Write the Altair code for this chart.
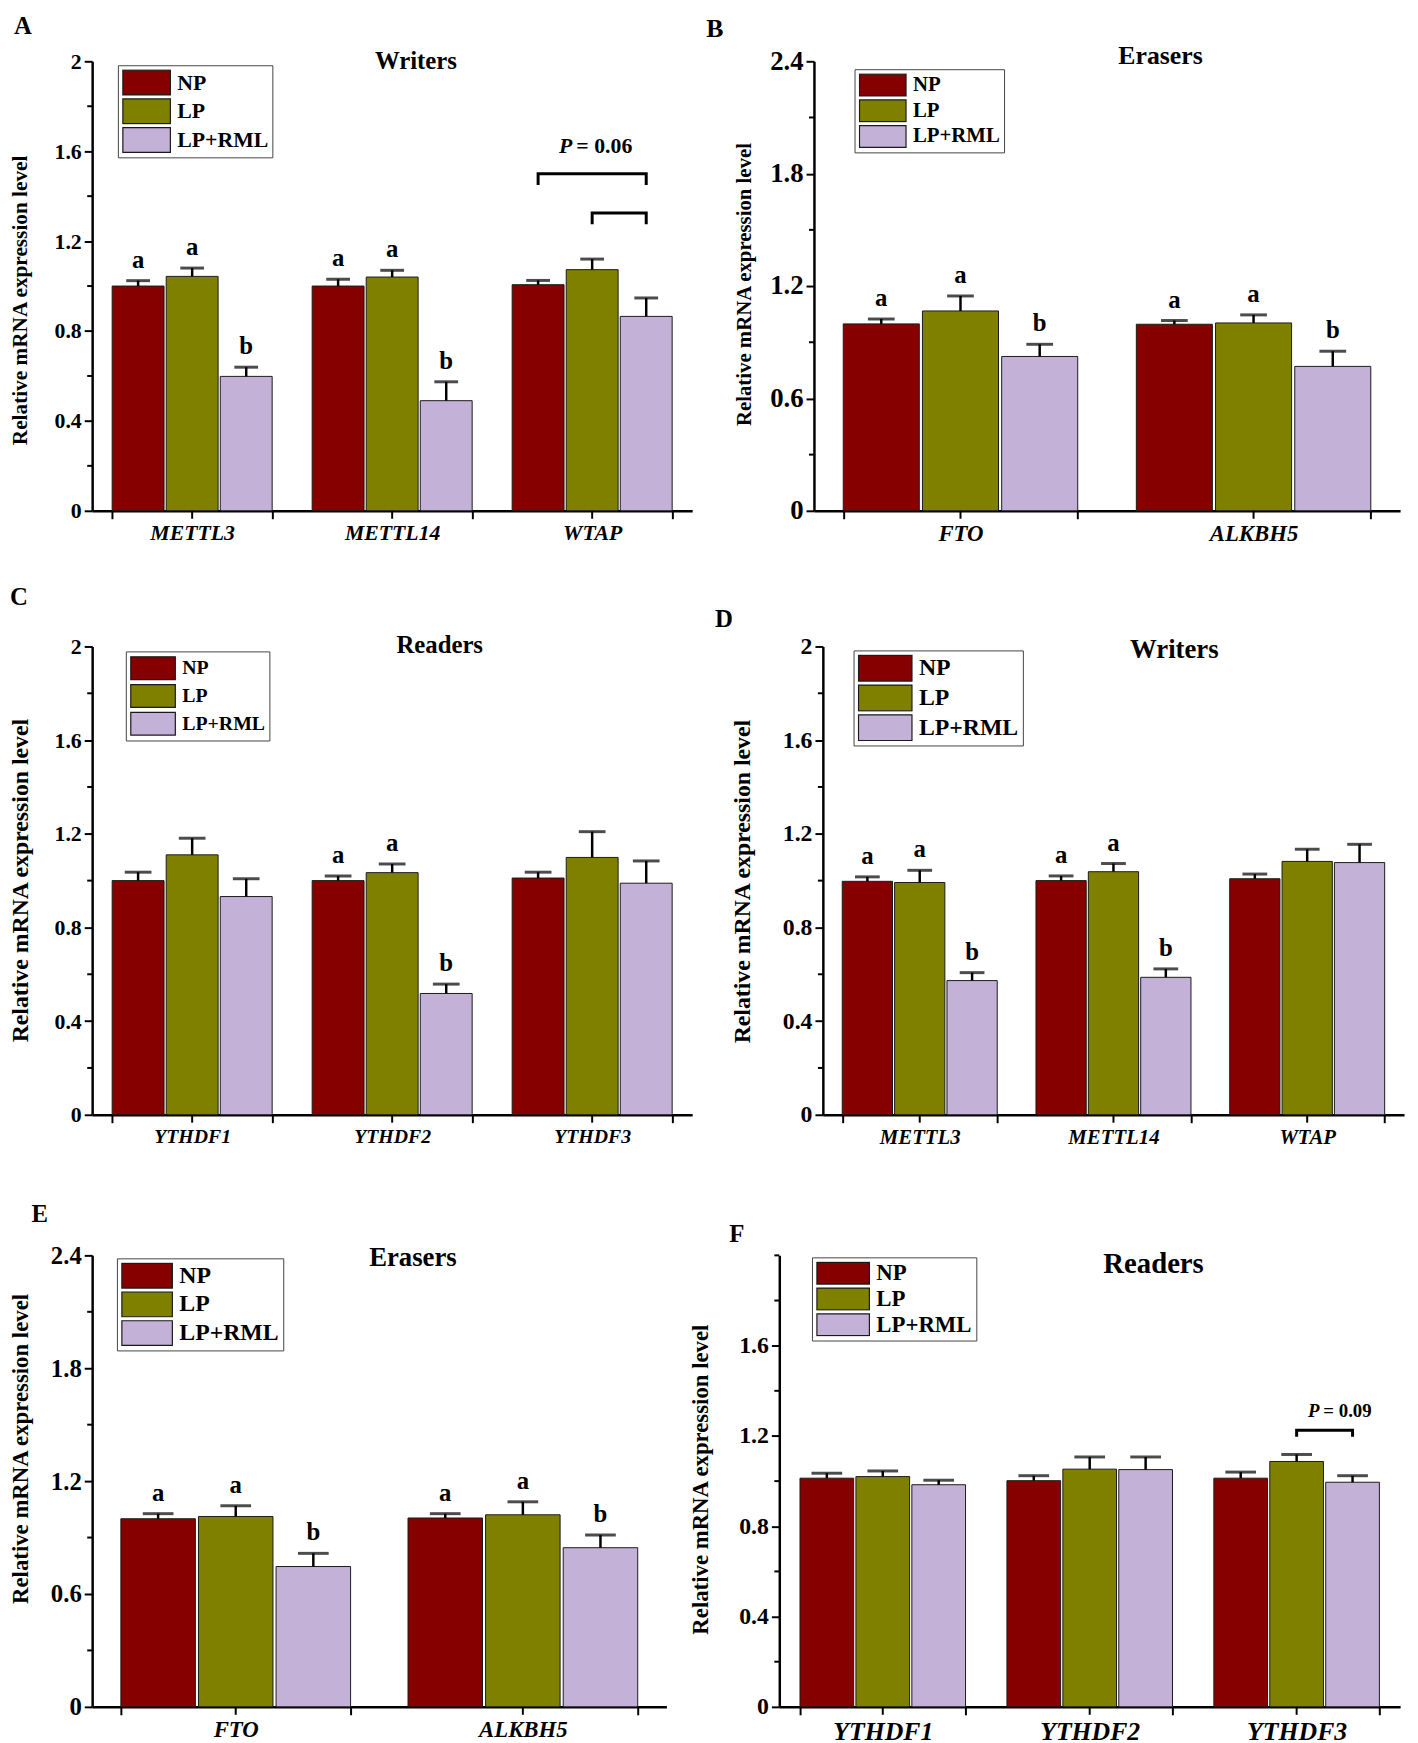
import altair as alt
import pandas as pd

FONT = "Liberation Serif"
GROUPS = ["NP", "LP", "LP+RML"]
COLORS = ["#870000", "#808000", "#C3B1D7"]
YTITLE = "Relative mRNA expression level"

# ---------------- data (mean and SE per gene: NP, LP, LP+RML) ----------------
A_GENES = ["METTL3", "METTL14", "WTAP"]
A_MEAN = [[1.00, 1.043, 0.598], [1.00, 1.04, 0.49], [1.006, 1.073, 0.865]]
A_SE = [[0.024, 0.037, 0.041], [0.03, 0.03, 0.084], [0.019, 0.047, 0.082]]
A_LET = [["a", "a", "b"], ["a", "a", "b"], ["", "", ""]]
A_BRACKETS = [("WTAP", "NP", "LP+RML", 1.45, 1.50), ("WTAP", "LP", "LP+RML", 1.275, 1.325)]
A_PTEXT = ("WTAP", "LP", 1.625, "= 0.06")

B_GENES = ["FTO", "ALKBH5"]
B_MEAN = [[0.998, 1.067, 0.824], [0.996, 1.003, 0.771]]
B_SE = [[0.026, 0.08, 0.065], [0.02, 0.043, 0.081]]
B_LET = [["a", "a", "b"], ["a", "a", "b"]]

C_GENES = ["YTHDF1", "YTHDF2", "YTHDF3"]
C_MEAN = [[1.00, 1.11, 0.932], [1.00, 1.034, 0.518], [1.011, 1.099, 0.989]]
C_SE = [[0.036, 0.071, 0.076], [0.02, 0.037, 0.04], [0.025, 0.11, 0.095]]
C_LET = [["", "", ""], ["a", "a", "b"], ["", "", ""]]

D_GENES = ["METTL3", "METTL14", "WTAP"]
D_MEAN = [[0.997, 0.992, 0.573], [1.00, 1.038, 0.587], [1.008, 1.082, 1.077]]
D_SE = [[0.019, 0.052, 0.034], [0.02, 0.035, 0.036], [0.02, 0.052, 0.078]]
D_LET = [["a", "a", "b"], ["a", "a", "b"], ["", "", ""]]

E_GENES = ["FTO", "ALKBH5"]
E_MEAN = [[1.00, 1.012, 0.746], [1.004, 1.021, 0.846]]
E_SE = [[0.027, 0.057, 0.07], [0.023, 0.069, 0.067]]
E_LET = [["a", "a", "b"], ["a", "a", "b"]]

F_GENES = ["YTHDF1", "YTHDF2", "YTHDF3"]
F_MEAN = [[1.013, 1.02, 0.984], [1.002, 1.053, 1.051], [1.013, 1.087, 0.995]]
F_SE = [[0.022, 0.025, 0.02], [0.022, 0.054, 0.056], [0.027, 0.031, 0.029]]
F_LET = [["", "", ""], ["", "", ""], ["", "", ""]]
F_BRACKETS = [("YTHDF3", "LP", "LP+RML", 1.197, 1.225)]
F_PTEXT = ("YTHDF3", "LP", 1.31, "= 0.09")

TICKS_2 = [0, 0.4, 0.8, 1.2, 1.6, 2.0]
MINOR_2 = [0.2, 0.6, 1.0, 1.4, 1.8]
TICKS_24 = [0, 0.6, 1.2, 1.8, 2.4]
MINOR_24 = [0.3, 0.9, 1.5, 2.1]
TICKS_F = [0, 0.4, 0.8, 1.2, 1.6]
MINOR_F = [0.2, 0.6, 1.0, 1.4, 1.8, 2.0]


def txt(t, x, y, size, style="normal", align="center"):
    return alt.Chart(pd.DataFrame({"t": [t]})).mark_text(
        font=FONT, fontSize=size, fontWeight="bold", fontStyle=style,
        color="black", align=align, baseline="middle"
    ).encode(x=alt.value(x), y=alt.value(y), text="t:N")


def make_panel(p):
    genes, w, h = p["genes"], p["w"], p["h"]
    rows = []
    for gi, g in enumerate(genes):
        for k, grp in enumerate(GROUPS):
            m, s = p["mean"][gi][k], p["se"][gi][k]
            rows.append({"gene": g, "group": grp, "mean": m,
                         "upper": round(m + s, 4), "letter": p["let"][gi][k]})
    df = pd.DataFrame(rows)

    yscale = alt.Scale(domain=[0, p["ymax"]], nice=False, zero=True)
    xscale = alt.Scale(domain=genes, paddingInner=0.2, paddingOuter=0.1)
    oscale = alt.Scale(domain=GROUPS, paddingInner=0.04, paddingOuter=0)
    XO = alt.XOffset("group:N", scale=oscale)

    xaxis = alt.Axis(
        tickBand="extent", tickSize=8, tickWidth=2, tickColor="black",
        domainWidth=2.5, domainColor="black", labelAngle=0,
        labelFont=FONT, labelFontSize=p["xlab"], labelFontStyle="italic",
        labelFontWeight="bold", labelColor="black", labelPadding=4)
    yaxis = alt.Axis(
        values=p["major"], format="~g", tickSize=8, tickWidth=2, tickColor="black",
        domainWidth=2.5, domainColor="black", grid=False,
        labelFont=FONT, labelFontSize=p["tick"], labelFontWeight="bold",
        labelColor="black", labelPadding=3,
        titleFont=FONT, titleFontSize=p["ytfs"], titleFontWeight="bold",
        titleColor="black", titleX=p["ytx"], titleY=p["yty"], titleAngle=270,
        titleAlign="center", titleBaseline="middle")

    def XN():
        return alt.X("gene:N", scale=xscale, axis=xaxis, title=None)

    def YN(field):
        return alt.Y(field, scale=yscale, axis=yaxis, title=YTITLE)

    symw, symh, rowh = p["symw"], p["symh"], p["rowh"]
    r = symh / symw
    path = f"M-1,-{r:.3f}H1V{r:.3f}H-1Z"

    bars = alt.Chart(df).mark_bar(stroke="#1a1a1a", strokeWidth=1).encode(
        x=XN(), xOffset=XO, y=YN("mean:Q"),
        color=alt.Color("group:N", scale=alt.Scale(domain=GROUPS, range=COLORS),
                        legend=alt.Legend(
                            orient="none", legendX=p["lx"], legendY=p["ly"], title=None,
                            symbolType=path, symbolSize=symw * symw,
                            symbolStrokeColor="#1a1a1a", symbolStrokeWidth=1.2,
                            symbolOpacity=1, labelFont=FONT, labelFontSize=p["lfs"],
                            labelFontWeight="bold", labelColor="black", labelOffset=6,
                            fillColor="white", strokeColor="#444", padding=4,
                            rowPadding=2, clipHeight=rowh, direction="vertical")),
    )

    err = alt.Chart(df).mark_rule(color="black", strokeWidth=2.5).encode(
        x=XN(), xOffset=XO, y=YN("mean:Q"), y2="upper:Q")
    cap = alt.Chart(df).mark_tick(color="black", thickness=3, size=p["cap"]).encode(
        x=XN(), xOffset=XO, y=YN("upper:Q"))
    lets = alt.Chart(df).transform_filter("datum.letter != ''").mark_text(
        font=FONT, fontSize=25, fontWeight="bold", color="black",
        baseline="alphabetic", dy=-13).encode(
        x=XN(), xOffset=XO, y=YN("upper:Q"), text="letter:N")

    cticks = alt.Chart(pd.DataFrame({"gene": genes})).mark_rule(
        color="black", strokeWidth=2).encode(
        x=XN(), y=alt.value(h), y2=alt.value(h + 8))
    mticks = alt.Chart(pd.DataFrame({"v": p["minor"]})).mark_rule(
        color="black", strokeWidth=2).encode(
        y=YN("v:Q"), x=alt.value(0), x2=alt.value(-5))
    spacer = alt.Chart(pd.DataFrame({"t": [0]})).mark_rule(opacity=0).encode(
        x=alt.value(0), y=alt.value(p["sptop"]), y2=alt.value(h + 55))

    layers = [bars, err, cap, lets, cticks, mticks, spacer,
              txt(p["label"], p["labx"], p["laby"], p["labfs"]),
              txt(p["title"], p["tx"], p["ty"], p["tfs"])]

    if p.get("brackets"):
        brows = []
        for i, (g, g1, g2, lo, hi) in enumerate(p["brackets"]):
            brows += [{"gene": g, "group": g1, "y": lo, "id": i, "o": 0},
                      {"gene": g, "group": g1, "y": hi, "id": i, "o": 1},
                      {"gene": g, "group": g2, "y": hi, "id": i, "o": 2},
                      {"gene": g, "group": g2, "y": lo, "id": i, "o": 3}]
        br = alt.Chart(pd.DataFrame(brows)).mark_line(color="black", strokeWidth=3).encode(
            x=XN(), xOffset=XO, y=YN("y:Q"), detail="id:N", order="o:Q")
        layers.append(br)
        g, grp, yv, rest = p["ptext"]
        pdf = pd.DataFrame({"gene": [g], "group": [grp], "y": [yv], "p": ["P"], "rest": [rest]})
        pfs = p["pfs"]
        pP = alt.Chart(pdf).mark_text(font=FONT, fontSize=pfs, fontWeight="bold",
                                      fontStyle="italic", color="black", align="right",
                                      baseline="middle", dx=p["pdx"]).encode(
            x=XN(), xOffset=XO, y=YN("y:Q"), text="p:N")
        pR = alt.Chart(pdf).mark_text(font=FONT, fontSize=pfs, fontWeight="bold",
                                      color="black", align="left", baseline="middle",
                                      dx=p["pdx"] + 4).encode(
            x=XN(), xOffset=XO, y=YN("y:Q"), text="rest:N")
        layers += [pP, pR]

    return alt.layer(*layers).properties(width=w, height=h)


PA = dict(genes=A_GENES, mean=A_MEAN, se=A_SE, let=A_LET, ymax=2, major=TICKS_2, minor=MINOR_2,
          w=606, h=454, label="A", labx=-70, laby=-36, labfs=25, title="Writers", tx=327, ty=0, tfs=25,
          ytx=-72, yty=241, ytfs=21.5, lx=26, ly=4, lfs=22, symw=48, symh=25, rowh=27, tick=22, xlab=22,
          cap=24, sptop=-45, brackets=A_BRACKETS, ptext=A_PTEXT, pfs=22, pdx=-20)
PB = dict(genes=B_GENES, mean=B_MEAN, se=B_SE, let=B_LET, ymax=2.4, major=TICKS_24, minor=MINOR_24,
          w=592, h=454, label="B", labx=-100, laby=-33, labfs=26, title="Erasers", tx=350, ty=-5, tfs=26,
          ytx=-70, yty=225, ytfs=21, lx=41, ly=8, lfs=21, symw=47, symh=22, rowh=24, tick=27, xlab=23,
          cap=27, sptop=-45)
PC = dict(genes=C_GENES, mean=C_MEAN, se=C_SE, let=C_LET, ymax=2, major=TICKS_2, minor=MINOR_2,
          w=606, h=473, label="C", labx=-74, laby=-50, labfs=25, title="Readers", tx=351, ty=-1, tfs=25,
          ytx=-72, yty=236, ytfs=24, lx=34, ly=5, lfs=20, symw=45, symh=23, rowh=26, tick=22, xlab=20,
          cap=27, sptop=-75)
PD = dict(genes=D_GENES, mean=D_MEAN, se=D_SE, let=D_LET, ymax=2, major=TICKS_2, minor=MINOR_2,
          w=587, h=473, label="D", labx=-100, laby=-28, labfs=25, title="Writers", tx=355, ty=4, tfs=27,
          ytx=-81, yty=237, ytfs=24, lx=31, ly=4, lfs=24, symw=54, symh=26, rowh=28, tick=24, xlab=21,
          cap=25, sptop=-75)
PE = dict(genes=E_GENES, mean=E_MEAN, se=E_SE, let=E_LET, ymax=2.4, major=TICKS_24, minor=MINOR_24,
          w=580, h=456, label="E", labx=-53, laby=-42, labfs=25, title="Erasers", tx=324, ty=3, tfs=27,
          ytx=-72, yty=195, ytfs=23, lx=25, ly=3, lfs=24, symw=51, symh=25, rowh=27, tick=25, xlab=23,
          cap=31, sptop=-80)
PF = dict(genes=F_GENES, mean=F_MEAN, se=F_SE, let=F_LET, ymax=2, major=TICKS_F, minor=MINOR_F,
          w=627, h=456, label="F", labx=-43, laby=-22, labfs=25, title="Readers", tx=378, ty=9, tfs=29,
          ytx=-80, yty=226, ytfs=23, lx=33, ly=2, lfs=23, symw=53, symh=22, rowh=24, tick=24, xlab=26,
          cap=31, sptop=-80, brackets=F_BRACKETS, ptext=F_PTEXT, pfs=19, pdx=23)


def row(a, b, sp):
    return alt.hconcat(make_panel(a), make_panel(b), spacing=sp, bounds="flush").resolve_scale(
        color="independent", xOffset="independent")


chart = alt.vconcat(row(PA, PB, 123), row(PC, PD, 132), row(PE, PF, 114), spacing=5).resolve_scale(
    color="independent", xOffset="independent"
).properties(
    padding={"left": 0, "top": -4, "right": 5, "bottom": 5}
).configure(font=FONT).configure_view(stroke="transparent")

chart.save("out.html", embed_options={"renderer": "svg", "actions": False})
